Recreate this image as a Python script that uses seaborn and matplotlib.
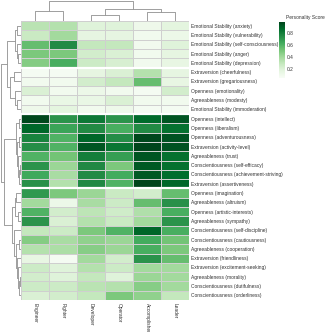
import numpy as np
import pandas as pd
import seaborn as sns
import matplotlib.pyplot as plt

roles = ['Engineer', 'Fighter', 'Developer', 'Operator', 'Accomplisher', 'Leader']

traits = [
    'Emotional Stability (anxiety)', 'Emotional Stability (vulnerability)',
    'Emotional Stability (self-consciousness)', 'Emotional Stability (anger)',
    'Emotional Stability (depression)', 'Extraversion (cheerfulness)',
    'Extraversion (gregariousness)', 'Openness (emotionality)',
    'Agreeableness (modesty)', 'Emotional Stability (immoderation)',
    'Openness (intellect)', 'Openness (liberalism)', 'Openness (adventurousness)',
    'Extraversion (activity-level)', 'Agreeableness (trust)',
    'Conscientiousness (self-efficacy)', 'Conscientiousness (achievement-striving)',
    'Extraversion (assertiveness)', 'Openness (imagination)', 'Agreeableness (altruism)',
    'Openness (artistic-interests)', 'Agreeableness (sympathy)',
    'Conscientiousness (self-discipline)', 'Conscientiousness (cautiousness)',
    'Agreeableness (cooperation)', 'Extraversion (friendliness)',
    'Extraversion (excitement-seeking)', 'Agreeableness (morality)',
    'Conscientiousness (dutifulness)', 'Conscientiousness (orderliness)',
]

engineer = [0.33, 0.28, 0.55, 0.50, 0.48, 0.08, 0.10, 0.22, 0.10, 0.12,
            0.97, 0.88, 0.78, 0.74, 0.60, 0.72, 0.64, 0.73,
            0.70, 0.40, 0.60, 0.72, 0.30, 0.48, 0.35, 0.16, 0.27, 0.25, 0.27, 0.22]
fighter = [0.35, 0.40, 0.75, 0.50, 0.62, 0.08, 0.10, 0.10, 0.15, 0.18,
           0.72, 0.66, 0.60, 0.60, 0.52, 0.42, 0.38, 0.35,
           0.50, 0.13, 0.25, 0.22, 0.27, 0.38, 0.37, 0.08, 0.20, 0.20, 0.27, 0.25]
developer = [0.20, 0.17, 0.30, 0.25, 0.27, 0.17, 0.25, 0.13, 0.15, 0.10,
             0.82, 0.75, 0.88, 0.93, 0.80, 0.76, 0.75, 0.76,
             0.42, 0.38, 0.32, 0.35, 0.50, 0.45, 0.47, 0.40, 0.35, 0.30, 0.33, 0.30]
operator = [0.20, 0.17, 0.30, 0.22, 0.23, 0.22, 0.30, 0.10, 0.22, 0.12,
            0.72, 0.62, 0.74, 0.83, 0.68, 0.50, 0.63, 0.60,
            0.28, 0.27, 0.26, 0.28, 0.60, 0.42, 0.42, 0.25, 0.27, 0.20, 0.35, 0.50]
accomplisher = [0.12, 0.10, 0.10, 0.10, 0.10, 0.35, 0.55, 0.08, 0.10, 0.08,
                0.87, 0.75, 0.97, 0.98, 0.93, 0.92, 0.92, 0.98,
                0.25, 0.55, 0.36, 0.40, 0.88, 0.63, 0.62, 0.72, 0.40, 0.42, 0.47, 0.45]
leader = [0.18, 0.13, 0.20, 0.17, 0.16, 0.17, 0.16, 0.25, 0.10, 0.08,
          0.93, 0.85, 0.94, 0.94, 0.85, 0.85, 0.86, 0.88,
          0.55, 0.73, 0.62, 0.72, 0.62, 0.52, 0.50, 0.55, 0.40, 0.40, 0.40, 0.30]

# dendrogram shapes: (left, right, height), leaves are row / column positions
row_tree = (
    (((0, 1, 0.21), (2, (3, 4, 0.13), 0.20), 0.32),
     ((5, 6, 0.37), (7, (8, 9, 0.21), 0.32), 0.53), 0.68),
    (((10, 11, 0.12), ((12, 13, 0.10), (14, ((15, 16, 0.06), 17, 0.10), 0.15), 0.20), 0.24),
     (((18, 19, 0.25), (20, 21, 0.15), 0.30),
      (22, ((23, 24, 0.12), (25, (26, ((27, 28, 0.06), 29, 0.10), 0.16), 0.20), 0.25), 0.33),
      0.45), 0.84),
    1.0)
col_tree = ((0, 1, 0.49), ((2, 3, 0.32), (4, 5, 0.44), 0.58), 1.0)


def tree_to_linkage(tree, n):
    rows = []

    def walk(node):
        if isinstance(node, int):
            return node, 1
        a, ca = walk(node[0])
        b, cb = walk(node[1])
        rows.append([a, b, node[2], ca + cb])
        return n + len(rows) - 1, ca + cb

    walk(tree)
    return np.array(rows, dtype=float)


df = pd.DataFrame({'Engineer': engineer, 'Fighter': fighter, 'Developer': developer,
                   'Operator': operator, 'Accomplisher': accomplisher, 'Leader': leader},
                  index=traits)[roles]

plt.rcParams['font.family'] = ['Liberation Sans', 'DejaVu Sans']

g = sns.clustermap(df, row_linkage=tree_to_linkage(row_tree, len(traits)),
                   col_linkage=tree_to_linkage(col_tree, len(roles)),
                   cmap='Greens', vmin=0.06, vmax=0.98, linewidths=0.6, linecolor='#cfcfcf',
                   figsize=(3.32, 3.32), xticklabels=True, yticklabels=True,
                   tree_kws={'colors': '#8f8f8f', 'linewidths': 0.6},
                   cbar_kws={'ticks': [0.2, 0.4, 0.6, 0.8]})

W = H = 332.0
g.ax_heatmap.set_position([21 / W, 32 / H, 168 / W, 279 / H])
g.ax_row_dendrogram.set_position([0, 32 / H, 21 / W, 279 / H])
g.ax_col_dendrogram.set_position([21 / W, 311 / H, 168 / W, 21 / H])
g.ax_cbar.set_position([279 / W, 254 / H, 6 / W, 56 / H])

ax = g.ax_heatmap
# gaps between row clusters
for r in [5, 10, 18]:
    ax.axhline(r, color='white', lw=1.6)
ax.set_xlabel('')
ax.set_ylabel('')
ax.tick_params(axis='y', length=0, pad=1.5, labelsize=3.5, labelcolor='#333333')
ax.tick_params(axis='x', length=0, pad=2, labelsize=3.5, labelcolor='#333333')
plt.setp(ax.get_xticklabels(), rotation=270, va='top', ha='center')

cax = g.ax_cbar
cax.tick_params(length=0, pad=1.5, labelsize=3.5, labelcolor='#333333')
cax.text(1.1, 1.04, 'Personality Score', transform=cax.transAxes, ha='left', va='bottom',
         fontsize=3.5, color='#333333')
for s in cax.spines.values():
    s.set_visible(False)

g.figure.savefig('out.png', dpi=100)
